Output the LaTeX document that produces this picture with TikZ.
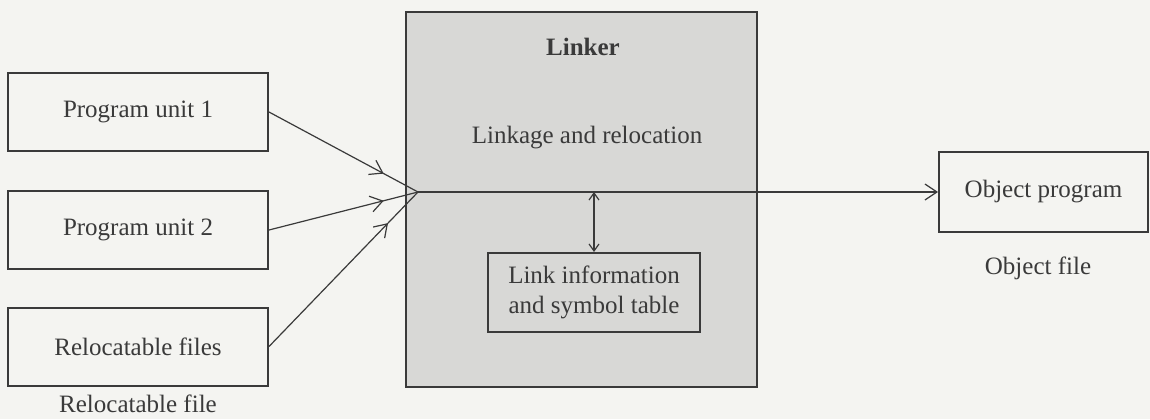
\documentclass[tikz,border=0pt]{standalone}
\usepackage{fontspec}
\setmainfont{Liberation Serif}
\usetikzlibrary{arrows.meta,decorations.markings}
\definecolor{ink}{HTML}{3A3A3A}
\definecolor{paper}{HTML}{F4F4F1}
\definecolor{shade}{HTML}{D8D8D6}
\begin{document}
\begin{tikzpicture}[x=0.5pt,y=-0.5pt,
  font=\fontsize{12.5}{15}\selectfont,
  unitbox/.style={draw=ink, line width=1pt, text=ink, inner sep=0pt,
    minimum width=130pt, minimum height=39pt},
  label/.style={text=ink, inner sep=0pt},
  flow/.style={draw=ink, line width=0.6pt},
  midtip/.style={postaction={decorate}, decoration={markings,
    mark=at position #1 with {\arrow{Straight Barb[length=6pt,width=8pt,line width=0.6pt]}}}}]
  % page
  \fill[paper] (0,0) rectangle (1150,419);
  \useasboundingbox (0,0) rectangle (1150,419);

  % linker block
  \node[draw=ink, fill=shade, line width=1pt, inner sep=0pt,
    minimum width=175.5pt, minimum height=187.5pt] (linker) at (581.5,199.5) {};
  \node[label, font=\fontsize{12.5}{15}\selectfont\bfseries] (ltitle) at (583,47) {Linker};
  \node[label] (lrel) at (587,138) {Linkage and relocation};
  \node[unitbox, minimum width=106pt, minimum height=39.5pt, align=center]
    (table) at (594,292.5) {Link information\\and symbol table};

  % input units
  \node[unitbox] (p1) at (138,112) {Program unit 1};
  \node[unitbox] (p2) at (138,230) {Program unit 2};
  \node[unitbox] (rf) at (138,346.5) {Relocatable files};
  \node[label] (rflabel) at (138,404) {Relocatable file};

  % output
  \node[unitbox, minimum width=104.5pt, minimum height=40pt] (obj) at (1043.5,192) {Object program};
  \node[label] (objlabel) at (1038,268) {Object file};

  % connectors
  \coordinate (hub) at (418,192);
  \draw[flow, midtip=0.77] (p1.east) -- (hub);
  \draw[flow, midtip=0.77] (p2.east) -- (hub);
  \draw[flow, midtip=0.8] (rf.east) -- (hub);
  \draw[flow, -{Straight Barb[length=6pt,width=8pt,line width=0.6pt]}] (hub) -- (obj.west);
  \draw[flow, {Straight Barb[length=3.5pt,width=5pt,line width=0.6pt]}-{Straight Barb[length=3.5pt,width=5pt,line width=0.6pt]}]
    (table.north |- hub) -- (table.north);
\end{tikzpicture}
\end{document}
